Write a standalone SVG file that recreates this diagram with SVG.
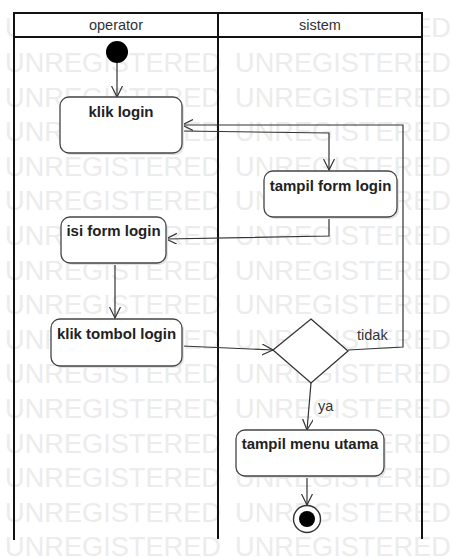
<svg xmlns="http://www.w3.org/2000/svg" width="452" height="558" viewBox="0 0 452 558">
  <style>
    .wm { font-family: "Liberation Sans", Arial, sans-serif; font-size: 27px; fill: #ececec; }
    .lane { fill: none; stroke: #111; stroke-width: 2; }
    .head { font-family: "Liberation Sans", Arial, sans-serif; font-size: 14.5px; fill: #333; text-anchor: middle; }
    .act rect { fill: #fff; stroke: #444; stroke-width: 1.3; }
    .act .sh { fill: #e2e2e2; stroke: none; }
    .act text { font-family: "Liberation Sans", Arial, sans-serif; font-size: 15px; font-weight: bold; fill: #222; text-anchor: middle; }
    .edge { fill: none; stroke: #333; stroke-width: 1.2; }
    .lbl { font-family: "Liberation Sans", Arial, sans-serif; font-size: 14.5px; fill: #333; }
  </style>
  <defs>
    <marker id="open" markerUnits="userSpaceOnUse" markerWidth="14" markerHeight="12" refX="11" refY="5.5" orient="auto">
      <path d="M0,0 L11,5.5 L0,11" fill="none" stroke="#333" stroke-width="1.2"/>
    </marker>
  </defs>

  <rect x="0" y="0" width="452" height="558" fill="#fff"/>

  <!-- background watermark rows -->
  <g id="watermark">
    <text class="wm" x="5" y="37.4" textLength="216" lengthAdjust="spacingAndGlyphs">UNREGISTERED</text>
    <text class="wm" x="235" y="37.4" textLength="216" lengthAdjust="spacingAndGlyphs">UNREGISTERED</text>
    <text class="wm" x="5" y="72" textLength="216" lengthAdjust="spacingAndGlyphs">UNREGISTERED</text>
    <text class="wm" x="235" y="72" textLength="216" lengthAdjust="spacingAndGlyphs">UNREGISTERED</text>
    <text class="wm" x="5" y="106.6" textLength="216" lengthAdjust="spacingAndGlyphs">UNREGISTERED</text>
    <text class="wm" x="235" y="106.6" textLength="216" lengthAdjust="spacingAndGlyphs">UNREGISTERED</text>
    <text class="wm" x="5" y="141.2" textLength="216" lengthAdjust="spacingAndGlyphs">UNREGISTERED</text>
    <text class="wm" x="235" y="141.2" textLength="216" lengthAdjust="spacingAndGlyphs">UNREGISTERED</text>
    <text class="wm" x="5" y="175.8" textLength="216" lengthAdjust="spacingAndGlyphs">UNREGISTERED</text>
    <text class="wm" x="235" y="175.8" textLength="216" lengthAdjust="spacingAndGlyphs">UNREGISTERED</text>
    <text class="wm" x="5" y="210.4" textLength="216" lengthAdjust="spacingAndGlyphs">UNREGISTERED</text>
    <text class="wm" x="235" y="210.4" textLength="216" lengthAdjust="spacingAndGlyphs">UNREGISTERED</text>
    <text class="wm" x="5" y="245" textLength="216" lengthAdjust="spacingAndGlyphs">UNREGISTERED</text>
    <text class="wm" x="235" y="245" textLength="216" lengthAdjust="spacingAndGlyphs">UNREGISTERED</text>
    <text class="wm" x="5" y="279.6" textLength="216" lengthAdjust="spacingAndGlyphs">UNREGISTERED</text>
    <text class="wm" x="235" y="279.6" textLength="216" lengthAdjust="spacingAndGlyphs">UNREGISTERED</text>
    <text class="wm" x="5" y="314.2" textLength="216" lengthAdjust="spacingAndGlyphs">UNREGISTERED</text>
    <text class="wm" x="235" y="314.2" textLength="216" lengthAdjust="spacingAndGlyphs">UNREGISTERED</text>
    <text class="wm" x="5" y="348.8" textLength="216" lengthAdjust="spacingAndGlyphs">UNREGISTERED</text>
    <text class="wm" x="235" y="348.8" textLength="216" lengthAdjust="spacingAndGlyphs">UNREGISTERED</text>
    <text class="wm" x="5" y="383.4" textLength="216" lengthAdjust="spacingAndGlyphs">UNREGISTERED</text>
    <text class="wm" x="235" y="383.4" textLength="216" lengthAdjust="spacingAndGlyphs">UNREGISTERED</text>
    <text class="wm" x="5" y="418" textLength="216" lengthAdjust="spacingAndGlyphs">UNREGISTERED</text>
    <text class="wm" x="235" y="418" textLength="216" lengthAdjust="spacingAndGlyphs">UNREGISTERED</text>
    <text class="wm" x="5" y="452.6" textLength="216" lengthAdjust="spacingAndGlyphs">UNREGISTERED</text>
    <text class="wm" x="235" y="452.6" textLength="216" lengthAdjust="spacingAndGlyphs">UNREGISTERED</text>
    <text class="wm" x="5" y="487.2" textLength="216" lengthAdjust="spacingAndGlyphs">UNREGISTERED</text>
    <text class="wm" x="235" y="487.2" textLength="216" lengthAdjust="spacingAndGlyphs">UNREGISTERED</text>
    <text class="wm" x="5" y="521.8" textLength="216" lengthAdjust="spacingAndGlyphs">UNREGISTERED</text>
    <text class="wm" x="235" y="521.8" textLength="216" lengthAdjust="spacingAndGlyphs">UNREGISTERED</text>
    <text class="wm" x="5" y="556.4" textLength="216" lengthAdjust="spacingAndGlyphs">UNREGISTERED</text>
    <text class="wm" x="235" y="556.4" textLength="216" lengthAdjust="spacingAndGlyphs">UNREGISTERED</text>
  </g>

  <!-- swimlanes -->
  <g id="lanes">
    <rect x="14" y="13" width="408" height="24" fill="#fff"/>
    <path class="lane" d="M14,540 L14,13 L422,13 L422,539 M14,37 L422,37 M218,13 L218,539"/>
    <text class="head" x="116" y="30">operator</text>
    <text class="head" x="320" y="30">sistem</text>
  </g>

  <!-- connectors -->
  <g id="connectors">
    <path class="edge" d="M117,63 L117,97" marker-end="url(#open)"/>
    <path class="edge" d="M182,131 L329,133 L329,170" marker-end="url(#open)"/>
    <path class="edge" d="M329,217 L329,236 L166,239" marker-end="url(#open)"/>
    <path class="edge" d="M115,263 L115,318" marker-end="url(#open)"/>
    <path class="edge" d="M182,346 L273,350" marker-end="url(#open)"/>
    <path class="edge" d="M348,350 L403,347 L403,125 L182,125" marker-end="url(#open)"/>
    <path class="edge" d="M311,383 L307,430" marker-end="url(#open)"/>
    <path class="edge" d="M307,476 L307,505" marker-end="url(#open)"/>
    <text class="lbl" x="357" y="340">tidak</text>
    <text class="lbl" x="318" y="411">ya</text>
  </g>

  <!-- nodes -->
  <g id="start">
    <circle cx="117" cy="52" r="11" fill="#000"/>
  </g>
  <g id="klik-login" class="act">
    <rect class="sh" x="62" y="99" width="122" height="56" rx="9"/>
    <rect x="60" y="97" width="122" height="56" rx="9"/>
    <text x="121" y="117">klik login</text>
  </g>
  <g id="tampil-form-login" class="act">
    <rect class="sh" x="266" y="173" width="133" height="46" rx="9"/>
    <rect x="264" y="171" width="133" height="46" rx="9"/>
    <text x="330.5" y="191">tampil form login</text>
  </g>
  <g id="isi-form-login" class="act">
    <rect class="sh" x="63" y="219" width="105" height="46" rx="9"/>
    <rect x="61" y="217" width="105" height="46" rx="9"/>
    <text x="113.5" y="236">isi form login</text>
  </g>
  <g id="klik-tombol-login" class="act">
    <rect class="sh" x="53" y="321" width="131" height="47" rx="9"/>
    <rect x="51" y="319" width="131" height="47" rx="9"/>
    <text x="116.5" y="339">klik tombol login</text>
  </g>
  <g id="decision">
    <polygon points="311,319 348,351 311,383 273,350" fill="#fff" stroke="#333" stroke-width="1.3"/>
  </g>
  <g id="tampil-menu-utama" class="act">
    <rect class="sh" x="238" y="432" width="148" height="46" rx="9"/>
    <rect x="236" y="430" width="148" height="46" rx="9"/>
    <text x="310" y="449">tampil menu utama</text>
  </g>
  <g id="end">
    <circle cx="307" cy="519" r="13.5" fill="#fff" stroke="#333" stroke-width="1.4"/>
    <circle cx="307" cy="519" r="8" fill="#000"/>
  </g>
</svg>
